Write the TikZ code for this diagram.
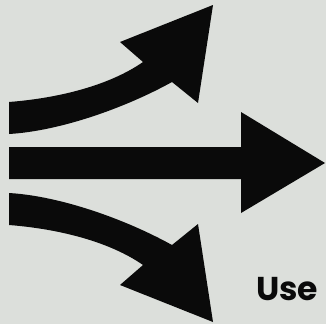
\documentclass[tikz,border=0pt]{standalone}
\usepackage{fontspec}
\newfontfamily\popfont{Poppins}
\definecolor{bgc}{HTML}{DCDFDB}
\definecolor{ink}{HTML}{0A0A0A}
\tikzset{
  arrowfill/.style={fill=ink, draw=none},
  label/.style={font=\popfont\bfseries\fontsize{33}{36}\selectfont, text=ink, inner sep=0pt, anchor=base west}
}
\begin{document}
\begin{tikzpicture}[x=1pt,y=-1pt]
\fill[bgc] (0,0) rectangle (326,324);
\useasboundingbox (0,0) rectangle (326,324);
% upper bent arrow
\fill[arrowfill] (9,102) .. controls (60,98) and (110,85) .. (143,62)
  -- (120,42) -- (213,5) -- (198,103) -- (172,82)
  .. controls (125,108) and (60,131) .. (9,134) -- cycle;
% lower bent arrow (mirror image)
\fill[arrowfill] (9,225) .. controls (60,229) and (110,242) .. (143,265)
  -- (120,285) -- (213,322) -- (198,224) -- (172,245)
  .. controls (125,219) and (60,196) .. (9,193) -- cycle;
% straight arrow
\fill[arrowfill] (9,147) -- (241,147) -- (241,112) -- (325,163) -- (241,213) -- (241,179) -- (9,179) -- cycle;
\node[label] (use) at (256,300) {Use};
\end{tikzpicture}
\end{document}
